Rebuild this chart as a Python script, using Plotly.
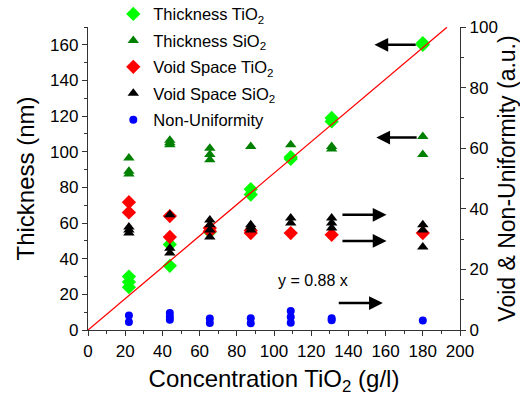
import plotly.graph_objects as go

FONT = "Liberation Sans, Arial, sans-serif"

# ---- data ----
thk_tio2_x = [22, 22, 22, 44, 44, 65.5, 87.5, 87.5, 109, 109, 131, 131, 180, 180]
thk_tio2_y = [30, 27, 24, 48, 36, 55, 79, 76, 97, 96, 119, 117, 161, 160]

thk_sio2_x = [22, 22, 22, 44, 44, 44, 65.5, 65.5, 65.5, 87.5, 109, 131, 131, 180, 180]
thk_sio2_y = [96.5, 89, 87.5, 106.5, 105, 104, 102, 98.5, 95.5, 103, 104, 103, 101.5, 108.5, 98.5]

void_tio2_x = [22, 22, 44, 44, 65.5, 65.5, 87.5, 87.5, 109, 131, 180]
void_tio2_y = [42.2, 38.8, 37.6, 30.7, 33.7, 32.6, 32.8, 32, 32, 31.4, 32]

void_sio2_x = [22, 22, 22, 44, 44, 44, 65.5, 65.5, 65.5, 65.5, 87.5, 87.5, 87.5, 109, 109, 131, 131, 131, 180, 180, 180]
void_sio2_y = [34, 33, 32, 38, 27, 25.4, 36.3, 34.7, 33, 30.7, 34.7, 34, 33, 37, 35.3, 37, 35.3, 33.7, 34.7, 33, 27.4]

nonuni_x = [22, 22, 44, 44, 44, 65.5, 65.5, 87.5, 87.5, 109, 109, 109, 131, 131, 180]
nonuni_y = [4.8, 2.6, 5.6, 4.4, 3.4, 3.8, 2.3, 3.9, 2.2, 6.3, 4.3, 2.4, 3.9, 3.2, 3.1]

fit_slope = 0.88
fit_x = [0, 193]
fit_y = [fit_slope * v for v in fit_x]

fig = go.Figure()

fig.add_trace(go.Scatter(x=thk_tio2_x, y=thk_tio2_y, mode="markers", name="Thickness TiO<sub>2</sub>",
                         legendgroup="g1", marker=dict(symbol="diamond", size=11, color="#00FF00")))
fig.add_trace(go.Scatter(x=thk_sio2_x, y=thk_sio2_y, mode="markers", name="Thickness SiO<sub>2</sub>",
                         legendgroup="g2", marker=dict(symbol="triangle-up", size=10, color="#008000")))
fig.add_trace(go.Scatter(x=fit_x, y=fit_y, mode="lines", showlegend=False, legendgroup="g2",
                         line=dict(color="#FF0000", width=1.3)))
fig.add_trace(go.Scatter(x=void_tio2_x, y=void_tio2_y, mode="markers", name="Void Space TiO<sub>2</sub>",
                         legendgroup="g3", yaxis="y2", marker=dict(symbol="diamond", size=11, color="#FF0000")))
fig.add_trace(go.Scatter(x=void_sio2_x, y=void_sio2_y, mode="markers", name="Void Space SiO<sub>2</sub>",
                         legendgroup="g4", yaxis="y2", marker=dict(symbol="triangle-up", size=10, color="#000000")))
fig.add_trace(go.Scatter(x=nonuni_x, y=nonuni_y, mode="markers", name="Non-Uniformity",
                         legendgroup="g5", yaxis="y2", marker=dict(symbol="circle", size=8, color="#0000FF")))

axis_common = dict(showgrid=False, zeroline=False, showline=True, linecolor="#333333", linewidth=1.3,
                   ticks="outside", ticklen=5, tickwidth=1.3, tickcolor="#333333", automargin=False,
                   tickfont=dict(family=FONT, size=17, color="black"),
                   minor=dict(ticks="outside", ticklen=3, tickwidth=1, tickcolor="#333333", dtick=10))

fig.update_layout(
    width=520, height=400,
    margin=dict(l=88, r=60, t=27, b=70, autoexpand=False),
    paper_bgcolor="white", plot_bgcolor="white",
    font=dict(family=FONT, color="black"),
    xaxis=dict(range=[0, 200], dtick=20, tick0=0,
               title=dict(text="Concentration TiO<sub>2</sub> (g/l)", font=dict(size=24), standoff=10),
               **axis_common),
    yaxis=dict(range=[0, 170], dtick=20, tick0=0,
               title=dict(text="Thickness (nm)", font=dict(size=24), standoff=8),
               **axis_common),
    yaxis2=dict(range=[0, 100], dtick=20, tick0=0, overlaying="y", side="right",
                title=dict(text="Void & Non-Uniformity (a.u.)", font=dict(size=23), standoff=2),
                **axis_common),
    legend=dict(x=0.068, y=1.1, xanchor="left", yanchor="top", bgcolor="rgba(0,0,0,0)",
                font=dict(family=FONT, size=16.5), itemwidth=30, tracegroupgap=2),
    showlegend=True,
)

# arrows (head at x,y ; tail at ax,ay)
arrows = [
    dict(x=154, y=160, ax=177, ay=160, yref="y", ayref="y"),
    dict(x=155, y=108, ax=177.5, ay=108, yref="y", ayref="y"),
    dict(x=160.5, y=38, ax=136, ay=38, yref="y2", ayref="y2"),
    dict(x=160.5, y=29.4, ax=136, ay=29.4, yref="y2", ayref="y2"),
    dict(x=158.5, y=8.9, ax=134, ay=8.9, yref="y2", ayref="y2"),
]
for a in arrows:
    fig.add_annotation(x=a["x"], y=a["y"], ax=a["ax"], ay=a["ay"], xref="x", axref="x",
                       yref=a["yref"], ayref=a["ayref"], text="", showarrow=True,
                       arrowhead=2, arrowsize=1.1, arrowwidth=2.5, arrowcolor="black", standoff=0)

fig.add_annotation(x=121, y=28, xref="x", yref="y", text="y = 0.88 x", showarrow=False,
                   font=dict(family=FONT, size=16, color="black"))

fig.write_html("out.html")
